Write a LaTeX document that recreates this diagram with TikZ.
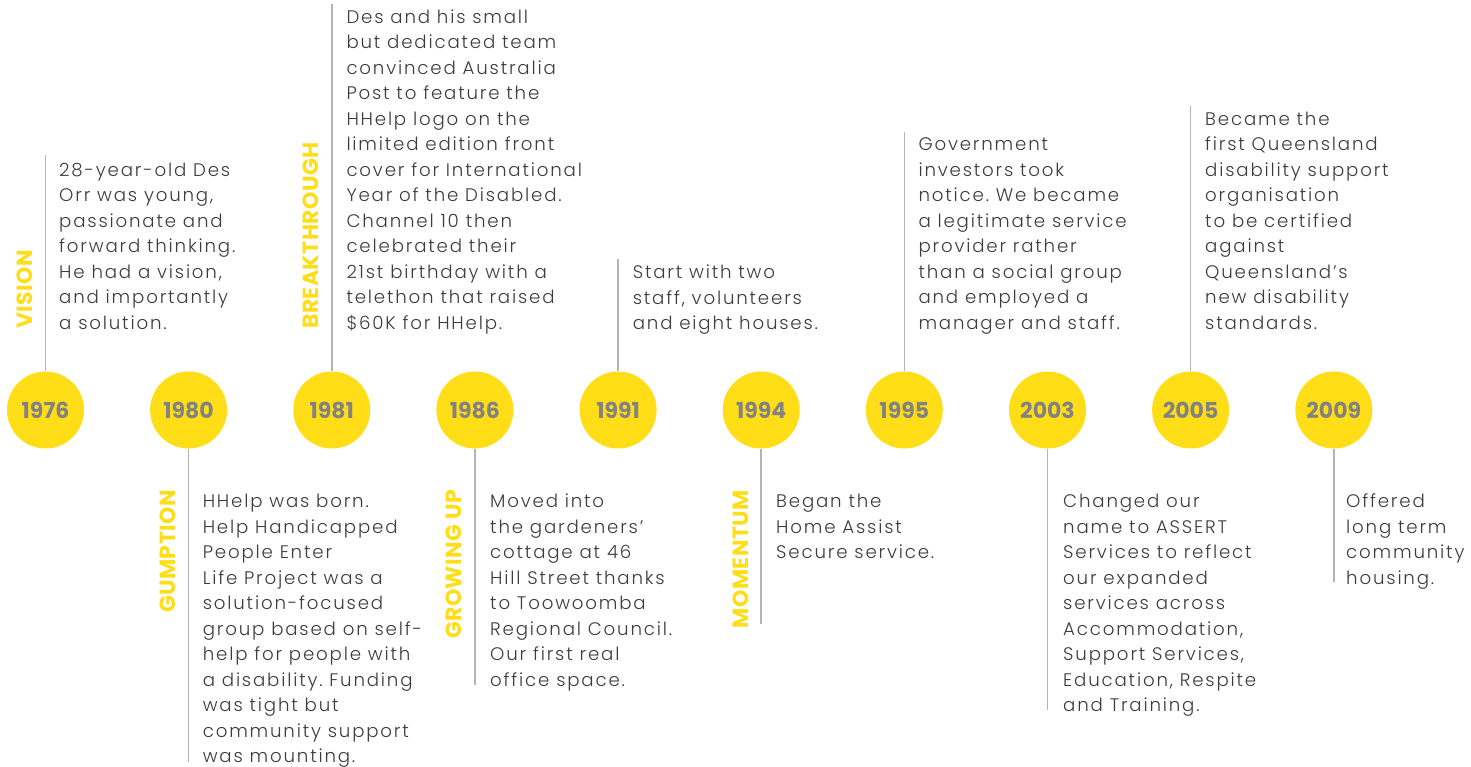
\documentclass[tikz,border=0pt]{standalone}
\usepackage{fontspec}
\setmainfont{Poppins}
\newfontfamily\bodyfont{Poppins}[UprightFont={* Light}, LetterSpace=10]
\newfontfamily\themefont{Poppins}[UprightFont={* Bold}, LetterSpace=2]
\frenchspacing
\definecolor{hyellow}{HTML}{FFDD17}
\definecolor{yeargray}{HTML}{828282}
\definecolor{bodygray}{HTML}{3C3C3C}
\definecolor{stemgray}{HTML}{B4B4B4}
% a block of hand-broken lines whose base is its first baseline
\newcommand\blurbtext[1]{\parbox[t]{300pt}{\raggedright #1}}
\tikzset{
  yearcircle/.style={circle, fill=hyellow, minimum size=77pt, inner sep=0pt,
    font=\bfseries\fontsize{22}{22}\selectfont, text=yeargray},
  stem/.style={draw=stemgray, line width=1.5pt},
  blurb/.style={anchor=base west, inner sep=0pt,
    font=\bodyfont\fontsize{18.2}{25.5}\selectfont, text=bodygray},
  theme/.style={rotate=90, inner sep=0pt,
    font=\themefont\fontsize{22}{22}\selectfont, text=hyellow},
  themeup/.style={theme, anchor=base west},
  themedown/.style={theme, anchor=base east},
}
\begin{document}
\begin{tikzpicture}[x=1pt, y=-1pt]
\useasboundingbox (0,0) rectangle (1471,767);

% year discs
\node[yearcircle] (c1976) at (45.5,410) {1976};
\node[yearcircle] (c1980) at (188.6,410) {1980};
\node[yearcircle] (c1981) at (331.8,410) {1981};
\node[yearcircle] (c1986) at (474.9,410) {1986};
\node[yearcircle] (c1991) at (618.1,410) {1991};
\node[yearcircle] (c1994) at (761.2,410) {1994};
\node[yearcircle] (c1995) at (904.3,410) {1995};
\node[yearcircle] (c2003) at (1047.5,410) {2003};
\node[yearcircle] (c2005) at (1190.6,410) {2005};
\node[yearcircle] (c2009) at (1333.8,410) {2009};

% stem ends
\coordinate (e1976) at (45.5,155.5);
\coordinate (e1980) at (188.6,762);
\coordinate (e1981) at (331.8,4.5);
\coordinate (e1986) at (474.9,685);
\coordinate (e1991) at (618.1,258.5);
\coordinate (e1994) at (761.2,624);
\coordinate (e1995) at (904.3,132);
\coordinate (e2003) at (1047.5,710);
\coordinate (e2005) at (1190.6,106.5);
\coordinate (e2009) at (1333.8,582);

\draw[stem] (c1976.north) -- (e1976);
\draw[stem] (c1980.south) -- (e1980);
\draw[stem] (c1981.north) -- (e1981);
\draw[stem] (c1986.south) -- (e1986);
\draw[stem] (c1991.north) -- (e1991);
\draw[stem] (c1994.south) -- (e1994);
\draw[stem] (c1995.north) -- (e1995);
\draw[stem] (c2003.south) -- (e2003);
\draw[stem] (c2005.north) -- (e2005);
\draw[stem] (c2009.south) -- (e2009);

% theme words
\node[themeup] (v1976) at (32.5,329) {VISION};
\node[themedown] (v1980) at (175.6,490) {GUMPTION};
\node[themeup] (v1981) at (318.8,329) {BREAKTHROUGH};
\node[themedown] (v1986) at (461.9,490) {GROWING UP};
\node[themedown] (v1994) at (748.2,490) {MOMENTUM};

% stories above the line
\node[blurb] (t1976) at (59,176.5) {\blurbtext{28-year-old Des\\Orr was young,\\passionate and\\forward thinking.\\He had a vision,\\and importantly\\a solution.}};
\node[blurb] (t1981) at (346.3,23.5) {\blurbtext{Des and his small\\but dedicated team\\convinced Australia\\Post to feature the\\HHelp logo on the\\limited edition front\\cover for International\\Year of the Disabled.\\Channel 10 then\\celebrated their\\21st birthday with a\\telethon that raised\\\$60K for HHelp.}};
\node[blurb] (t1991) at (632.6,278.5) {\blurbtext{Start with two\\staff, volunteers\\and eight houses.}};
\node[blurb] (t1995) at (918.3,151) {\blurbtext{Government\\investors took\\notice. We became\\a legitimate service\\provider rather\\than a social group\\and employed a\\manager and staff.}};
\node[blurb] (t2005) at (1205,125.5) {\blurbtext{Became the\\first Queensland\\disability support\\organisation\\to be certified\\against\\Queensland’s\\new disability\\standards.}};

% stories below the line
\node[blurb] (t1980) at (202.6,507.5) {\blurbtext{HHelp was born.\\Help Handicapped\\People Enter\\Life Project was a\\solution-focused\\group based on self-\\help for people with\\a disability. Funding\\was tight but\\community support\\was mounting.}};
\node[blurb] (t1986) at (490,507.5) {\blurbtext{Moved into\\the gardeners’\\cottage at 46\\Hill Street thanks\\to Toowoomba\\Regional Council.\\Our first real\\office space.}};
\node[blurb] (t1994) at (776,507.5) {\blurbtext{Began the\\Home Assist\\Secure service.}};
\node[blurb] (t2003) at (1063,507.5) {\blurbtext{Changed our\\name to ASSERT\\Services to reflect\\our expanded\\services across\\Accommodation,\\Support Services,\\Education, Respite\\and Training.}};
\node[blurb] (t2009) at (1346,507.5) {\blurbtext{Offered\\long term\\community\\housing.}};
\end{tikzpicture}
\end{document}
